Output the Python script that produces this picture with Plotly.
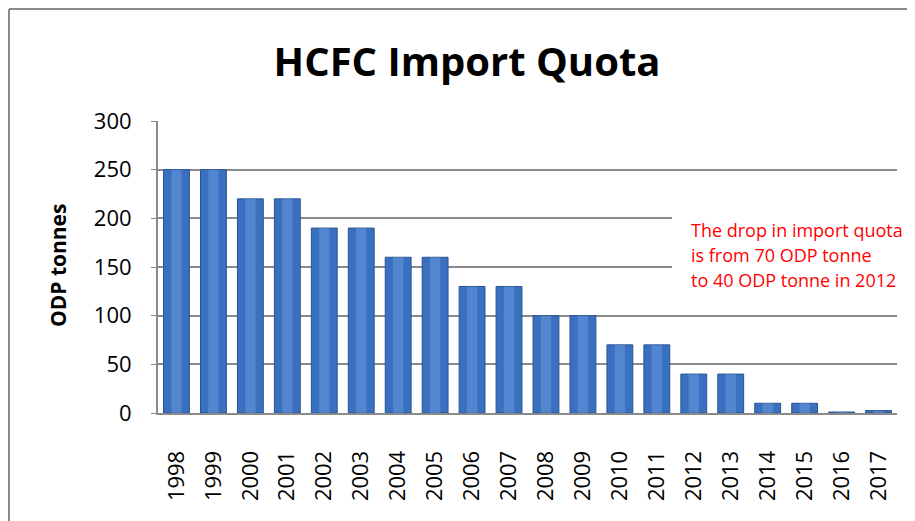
import plotly.graph_objects as go

years = [str(y) for y in range(1998, 2018)]
quota = [250, 250, 220, 220, 190, 190, 160, 160, 130, 130,
         100, 100, 70, 70, 40, 40, 10, 10, 1, 2.5]
y_ticks = [0, 50, 100, 150, 200, 250, 300]

title_text = "HCFC Import Quota"
y_title = "ODP tonnes"
note_lines = ["The drop in import quota",
              "is from 70 ODP tonne",
              "to 40 ODP tonne in 2012"]

FONT = "Open Sans"
GRAY = "#8a8a8a"

# page offset (body margin) = 8px
W, H = 907, 513
L, R, T, B = 150, 18, 113, 108
PW = W - L - R   # 739
PH = H - T - B   # 292


def xp(px):
    return (px - 8 - L) / PW


def yp(py):
    return (H - B - (py - 8)) / PH


fig = go.Figure()
fig.add_trace(go.Bar(
    x=years, y=quota,
    marker=dict(color="#3A70C0", line=dict(color="#2A5590", width=1)),
    width=0.7, hoverinfo="x+y", showlegend=False,
))
fig.add_trace(go.Bar(
    x=years, y=quota,
    marker=dict(color="rgba(130,175,232,0.35)", line=dict(width=0)),
    width=0.28, hoverinfo="skip", showlegend=False,
))

annotations = [
    dict(text="<b>" + y_title + "</b>", textangle=-90,
         xref="paper", yref="paper",
         x=xp(58), y=yp(266),
         xanchor="center", yanchor="middle", showarrow=False,
         font=dict(family=FONT, size=21, color="black")),
]
for i, line in enumerate(note_lines):
    annotations.append(dict(
        text=line, align="left", xref="paper", yref="paper",
        x=xp(689), y=yp(230 + 25 * i),
        xanchor="left", yanchor="middle", showarrow=False,
        font=dict(family=FONT, size=18, color="#FF0000")))

fig.update_layout(
    width=W, height=H,
    margin=dict(l=L, r=R, t=T, b=B),
    paper_bgcolor="white", plot_bgcolor="white",
    barmode="overlay",
    font=dict(family=FONT, color="black"),
    title=dict(text="<b>" + title_text + "</b>", x=(467 - 8) / W, xanchor="center",
               y=1 - (62 - 8) / H, yanchor="middle", yref="container",
               font=dict(family=FONT, size=40, color="black")),
    xaxis=dict(
        type="category", tickangle=-90, tickfont=dict(size=22),
        showline=True, linecolor=GRAY, linewidth=2,
        ticks="", ticklabelstandoff=27, showgrid=False, zeroline=False,
        range=[-0.5, 19.5],
    ),
    yaxis=dict(
        range=[0, 300], tickvals=y_ticks, tickfont=dict(size=22),
        showline=True, linecolor=GRAY, linewidth=2,
        showgrid=True, gridcolor=GRAY, gridwidth=1.5,
        ticks="outside", ticklen=5, tickcolor=GRAY,
        ticklabelstandoff=15, zeroline=False,
    ),
    shapes=[
        dict(type="rect", xref="paper", yref="paper",
             x0=xp(672), x1=1.0,
             y0=yp(300), y1=yp(208),
             fillcolor="white", line=dict(width=0), layer="above"),
        dict(type="line", xref="paper", yref="paper",
             x0=xp(9), x1=xp(9),
             y0=yp(9), y1=yp(540),
             line=dict(color=GRAY, width=2)),
        dict(type="line", xref="paper", yref="paper",
             x0=xp(9), x1=xp(925),
             y0=yp(9), y1=yp(9),
             line=dict(color=GRAY, width=2)),
    ],
    annotations=annotations,
)

fig.write_html("out.html")
